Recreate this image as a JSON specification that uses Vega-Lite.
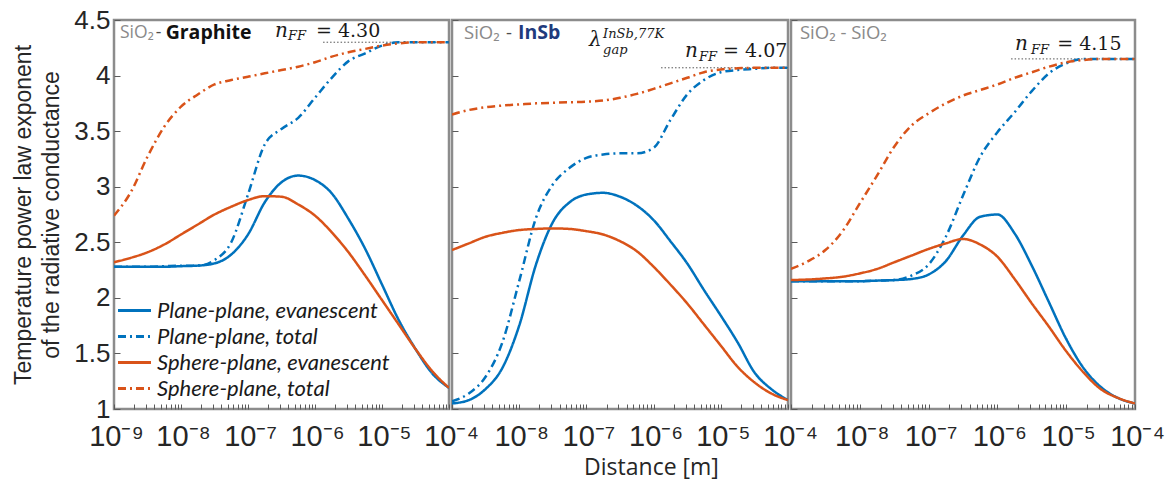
{
  "$schema": "https://vega.github.io/schema/vega-lite/v6.json",
  "padding": {"left": 11, "top": 5, "right": 2, "bottom": 0},
  "background": "white",
  "bounds": "flush",
  "config": {
    "view": {"stroke": "#8c8c8c", "strokeWidth": 2.5},
    "concat": {"spacing": 3},
    "axis": {"domain": false, "grid": false, "zindex": 1, "labelFont": "Liberation Sans", "labelColor": "#262626", "tickColor": "#5a5a5a", "tickWidth": 1, "titleFont": "Liberation Sans", "titleColor": "#262626", "titleFontWeight": "normal", "labelOverlap": false, "labelFlush": false},
    "legend": {"title": null, "symbolType": "M-1.27,0H1.27", "symbolStrokeWidth": 3, "symbolSize": 676, "labelFont": "Lato", "labelFontStyle": "italic", "labelFontSize": 22, "labelColor": "#1a1a1a", "rowPadding": 0, "labelOffset": 8, "padding": 0, "labelLimit": 400}
  },
  "resolve": {"legend": {"color": "independent", "strokeDash": "independent"}},
  "datasets": {
    "curves": [
      {"p":1,"d":1e-9,"Plane-plane, evanescent":2.28,"Plane-plane, total":2.28,"Sphere-plane, evanescent":2.32,"Sphere-plane, total":2.74},
      {"p":1,"d":1.778e-9,"Plane-plane, evanescent":2.28,"Plane-plane, total":2.28,"Sphere-plane, evanescent":2.36,"Sphere-plane, total":2.95},
      {"p":1,"d":3.162e-9,"Plane-plane, evanescent":2.28,"Plane-plane, total":2.28,"Sphere-plane, evanescent":2.41,"Sphere-plane, total":3.27},
      {"p":1,"d":5.623e-9,"Plane-plane, evanescent":2.28,"Plane-plane, total":2.285,"Sphere-plane, evanescent":2.48,"Sphere-plane, total":3.54},
      {"p":1,"d":1e-8,"Plane-plane, evanescent":2.285,"Plane-plane, total":2.29,"Sphere-plane, evanescent":2.57,"Sphere-plane, total":3.72},
      {"p":1,"d":1.778e-8,"Plane-plane, evanescent":2.29,"Plane-plane, total":2.29,"Sphere-plane, evanescent":2.66,"Sphere-plane, total":3.83},
      {"p":1,"d":3.162e-8,"Plane-plane, evanescent":2.31,"Plane-plane, total":2.34,"Sphere-plane, evanescent":2.75,"Sphere-plane, total":3.92},
      {"p":1,"d":5.623e-8,"Plane-plane, evanescent":2.39,"Plane-plane, total":2.5,"Sphere-plane, evanescent":2.82,"Sphere-plane, total":3.96},
      {"p":1,"d":1e-7,"Plane-plane, evanescent":2.57,"Plane-plane, total":2.93,"Sphere-plane, evanescent":2.88,"Sphere-plane, total":3.99},
      {"p":1,"d":1.778e-7,"Plane-plane, evanescent":2.86,"Plane-plane, total":3.38,"Sphere-plane, evanescent":2.915,"Sphere-plane, total":4.02},
      {"p":1,"d":3.162e-7,"Plane-plane, evanescent":3.04,"Plane-plane, total":3.52,"Sphere-plane, evanescent":2.91,"Sphere-plane, total":4.05},
      {"p":1,"d":5.623e-7,"Plane-plane, evanescent":3.10,"Plane-plane, total":3.62,"Sphere-plane, evanescent":2.84,"Sphere-plane, total":4.08},
      {"p":1,"d":1e-6,"Plane-plane, evanescent":3.06,"Plane-plane, total":3.80,"Sphere-plane, evanescent":2.74,"Sphere-plane, total":4.12},
      {"p":1,"d":1.778e-6,"Plane-plane, evanescent":2.94,"Plane-plane, total":3.98,"Sphere-plane, evanescent":2.59,"Sphere-plane, total":4.17},
      {"p":1,"d":3.162e-6,"Plane-plane, evanescent":2.71,"Plane-plane, total":4.13,"Sphere-plane, evanescent":2.41,"Sphere-plane, total":4.21},
      {"p":1,"d":5.623e-6,"Plane-plane, evanescent":2.44,"Plane-plane, total":4.20,"Sphere-plane, evanescent":2.20,"Sphere-plane, total":4.24},
      {"p":1,"d":1e-5,"Plane-plane, evanescent":2.12,"Plane-plane, total":4.27,"Sphere-plane, evanescent":1.98,"Sphere-plane, total":4.27},
      {"p":1,"d":1.778e-5,"Plane-plane, evanescent":1.80,"Plane-plane, total":4.30,"Sphere-plane, evanescent":1.76,"Sphere-plane, total":4.29},
      {"p":1,"d":3.162e-5,"Plane-plane, evanescent":1.54,"Plane-plane, total":4.30,"Sphere-plane, evanescent":1.54,"Sphere-plane, total":4.30},
      {"p":1,"d":5.623e-5,"Plane-plane, evanescent":1.32,"Plane-plane, total":4.30,"Sphere-plane, evanescent":1.34,"Sphere-plane, total":4.30},
      {"p":1,"d":1e-4,"Plane-plane, evanescent":1.19,"Plane-plane, total":4.30,"Sphere-plane, evanescent":1.19,"Sphere-plane, total":4.30},

      {"p":2,"d":1e-9,"Plane-plane, evanescent":1.05,"Plane-plane, total":1.07,"Sphere-plane, evanescent":2.43,"Sphere-plane, total":3.65},
      {"p":2,"d":1.778e-9,"Plane-plane, evanescent":1.08,"Plane-plane, total":1.14,"Sphere-plane, evanescent":2.49,"Sphere-plane, total":3.69},
      {"p":2,"d":3.162e-9,"Plane-plane, evanescent":1.18,"Plane-plane, total":1.29,"Sphere-plane, evanescent":2.55,"Sphere-plane, total":3.715},
      {"p":2,"d":5.623e-9,"Plane-plane, evanescent":1.37,"Plane-plane, total":1.60,"Sphere-plane, evanescent":2.585,"Sphere-plane, total":3.73},
      {"p":2,"d":1e-8,"Plane-plane, evanescent":1.75,"Plane-plane, total":2.15,"Sphere-plane, evanescent":2.61,"Sphere-plane, total":3.74},
      {"p":2,"d":1.778e-8,"Plane-plane, evanescent":2.30,"Plane-plane, total":2.72,"Sphere-plane, evanescent":2.62,"Sphere-plane, total":3.75},
      {"p":2,"d":3.162e-8,"Plane-plane, evanescent":2.68,"Plane-plane, total":3.02,"Sphere-plane, evanescent":2.625,"Sphere-plane, total":3.755},
      {"p":2,"d":5.623e-8,"Plane-plane, evanescent":2.86,"Plane-plane, total":3.17,"Sphere-plane, evanescent":2.62,"Sphere-plane, total":3.76},
      {"p":2,"d":1e-7,"Plane-plane, evanescent":2.93,"Plane-plane, total":3.26,"Sphere-plane, evanescent":2.60,"Sphere-plane, total":3.765},
      {"p":2,"d":1.778e-7,"Plane-plane, evanescent":2.945,"Plane-plane, total":3.29,"Sphere-plane, evanescent":2.57,"Sphere-plane, total":3.775},
      {"p":2,"d":3.162e-7,"Plane-plane, evanescent":2.91,"Plane-plane, total":3.30,"Sphere-plane, evanescent":2.51,"Sphere-plane, total":3.80},
      {"p":2,"d":5.623e-7,"Plane-plane, evanescent":2.83,"Plane-plane, total":3.30,"Sphere-plane, evanescent":2.42,"Sphere-plane, total":3.835},
      {"p":2,"d":1e-6,"Plane-plane, evanescent":2.70,"Plane-plane, total":3.35,"Sphere-plane, evanescent":2.28,"Sphere-plane, total":3.88},
      {"p":2,"d":1.778e-6,"Plane-plane, evanescent":2.51,"Plane-plane, total":3.60,"Sphere-plane, evanescent":2.12,"Sphere-plane, total":3.93},
      {"p":2,"d":3.162e-6,"Plane-plane, evanescent":2.31,"Plane-plane, total":3.83,"Sphere-plane, evanescent":1.95,"Sphere-plane, total":3.98},
      {"p":2,"d":5.623e-6,"Plane-plane, evanescent":2.07,"Plane-plane, total":3.96,"Sphere-plane, evanescent":1.76,"Sphere-plane, total":4.03},
      {"p":2,"d":1e-5,"Plane-plane, evanescent":1.84,"Plane-plane, total":4.03,"Sphere-plane, evanescent":1.57,"Sphere-plane, total":4.055},
      {"p":2,"d":1.778e-5,"Plane-plane, evanescent":1.60,"Plane-plane, total":4.05,"Sphere-plane, evanescent":1.38,"Sphere-plane, total":4.065},
      {"p":2,"d":3.162e-5,"Plane-plane, evanescent":1.33,"Plane-plane, total":4.06,"Sphere-plane, evanescent":1.24,"Sphere-plane, total":4.07},
      {"p":2,"d":5.623e-5,"Plane-plane, evanescent":1.18,"Plane-plane, total":4.07,"Sphere-plane, evanescent":1.14,"Sphere-plane, total":4.07},
      {"p":2,"d":1e-4,"Plane-plane, evanescent":1.08,"Plane-plane, total":4.07,"Sphere-plane, evanescent":1.08,"Sphere-plane, total":4.07},

      {"p":3,"d":1e-9,"Plane-plane, evanescent":2.15,"Plane-plane, total":2.15,"Sphere-plane, evanescent":2.16,"Sphere-plane, total":2.26},
      {"p":3,"d":1.778e-9,"Plane-plane, evanescent":2.15,"Plane-plane, total":2.15,"Sphere-plane, evanescent":2.165,"Sphere-plane, total":2.33},
      {"p":3,"d":3.162e-9,"Plane-plane, evanescent":2.15,"Plane-plane, total":2.15,"Sphere-plane, evanescent":2.175,"Sphere-plane, total":2.43},
      {"p":3,"d":5.623e-9,"Plane-plane, evanescent":2.15,"Plane-plane, total":2.15,"Sphere-plane, evanescent":2.19,"Sphere-plane, total":2.60},
      {"p":3,"d":1e-8,"Plane-plane, evanescent":2.15,"Plane-plane, total":2.15,"Sphere-plane, evanescent":2.22,"Sphere-plane, total":2.85},
      {"p":3,"d":1.778e-8,"Plane-plane, evanescent":2.155,"Plane-plane, total":2.155,"Sphere-plane, evanescent":2.26,"Sphere-plane, total":3.10},
      {"p":3,"d":3.162e-8,"Plane-plane, evanescent":2.16,"Plane-plane, total":2.16,"Sphere-plane, evanescent":2.32,"Sphere-plane, total":3.36},
      {"p":3,"d":5.623e-8,"Plane-plane, evanescent":2.17,"Plane-plane, total":2.20,"Sphere-plane, evanescent":2.38,"Sphere-plane, total":3.55},
      {"p":3,"d":1e-7,"Plane-plane, evanescent":2.21,"Plane-plane, total":2.30,"Sphere-plane, evanescent":2.44,"Sphere-plane, total":3.66},
      {"p":3,"d":1.778e-7,"Plane-plane, evanescent":2.33,"Plane-plane, total":2.55,"Sphere-plane, evanescent":2.49,"Sphere-plane, total":3.75},
      {"p":3,"d":3.162e-7,"Plane-plane, evanescent":2.56,"Plane-plane, total":2.92,"Sphere-plane, evanescent":2.53,"Sphere-plane, total":3.82},
      {"p":3,"d":5.623e-7,"Plane-plane, evanescent":2.73,"Plane-plane, total":3.27,"Sphere-plane, evanescent":2.48,"Sphere-plane, total":3.87},
      {"p":3,"d":1e-6,"Plane-plane, evanescent":2.75,"Plane-plane, total":3.49,"Sphere-plane, evanescent":2.37,"Sphere-plane, total":3.92},
      {"p":3,"d":1.778e-6,"Plane-plane, evanescent":2.58,"Plane-plane, total":3.67,"Sphere-plane, evanescent":2.17,"Sphere-plane, total":3.98},
      {"p":3,"d":3.162e-6,"Plane-plane, evanescent":2.29,"Plane-plane, total":3.86,"Sphere-plane, evanescent":1.95,"Sphere-plane, total":4.03},
      {"p":3,"d":5.623e-6,"Plane-plane, evanescent":1.96,"Plane-plane, total":4.02,"Sphere-plane, evanescent":1.74,"Sphere-plane, total":4.08},
      {"p":3,"d":1e-5,"Plane-plane, evanescent":1.63,"Plane-plane, total":4.11,"Sphere-plane, evanescent":1.52,"Sphere-plane, total":4.12},
      {"p":3,"d":1.778e-5,"Plane-plane, evanescent":1.37,"Plane-plane, total":4.15,"Sphere-plane, evanescent":1.33,"Sphere-plane, total":4.14},
      {"p":3,"d":3.162e-5,"Plane-plane, evanescent":1.20,"Plane-plane, total":4.15,"Sphere-plane, evanescent":1.18,"Sphere-plane, total":4.15},
      {"p":3,"d":5.623e-5,"Plane-plane, evanescent":1.10,"Plane-plane, total":4.15,"Sphere-plane, evanescent":1.10,"Sphere-plane, total":4.15},
      {"p":3,"d":1e-4,"Plane-plane, evanescent":1.05,"Plane-plane, total":4.15,"Sphere-plane, evanescent":1.05,"Sphere-plane, total":4.15}
    ],
    "ann": [
      {"p":1,"k":"gray","t":"SiO₂","d":1.23e-9,"n":4.384},
      {"p":1,"k":"dash","t":"-","d":4.2e-9,"n":4.384},
      {"p":1,"k":"bold","t":"Graphite","d":5.9e-9,"n":4.384},
      {"p":1,"k":"it","t":"n","d":2.53e-7,"n":4.348},
      {"p":1,"k":"sub","t":"FF","d":3.95e-7,"n":4.32},
      {"p":1,"k":"rm","t":"= 4.30","d":1.035e-6,"n":4.348},
      {"p":2,"k":"gray","t":"SiO₂","d":1.51e-9,"n":4.384},
      {"p":2,"k":"dash","t":"-","d":6.37e-9,"n":4.384},
      {"p":2,"k":"navy","t":"InSb","d":9.6e-9,"n":4.384},
      {"p":2,"k":"it","t":"λ","d":1.09e-7,"n":4.267},
      {"p":2,"k":"sub","t":"gap","d":1.77e-7,"n":4.195},
      {"p":2,"k":"sub","t":"InSb,77K","d":1.77e-7,"n":4.339},
      {"p":2,"k":"it","t":"n","d":2.93e-6,"n":4.168},
      {"p":2,"k":"sub","t":"FF","d":4.74e-6,"n":4.132},
      {"p":2,"k":"rm","t":"= 4.07","d":1.08e-5,"n":4.168},
      {"p":3,"k":"gray","t":"SiO₂ - SiO₂","d":1.35e-9,"n":4.384},
      {"p":3,"k":"it","t":"n","d":1.8e-6,"n":4.231},
      {"p":3,"k":"sub","t":"FF","d":3.08e-6,"n":4.195},
      {"p":3,"k":"rm","t":"= 4.15","d":7.4e-6,"n":4.231}
    ],
    "ref": [
      {"p":1,"d":1.32e-6,"d2":1e-4,"n":4.30},
      {"p":2,"d":1.29e-6,"d2":1e-4,"n":4.07},
      {"p":3,"d":1.58e-6,"d2":1e-4,"n":4.15}
    ]
  },
  "hconcat": [
    {
      "width": 335, "height": 389,
      "layer": [
        {
          "data": {"name": "ref"},
          "transform": [{"filter": "datum.p == 1"}],
          "mark": {"type": "rule", "strokeDash": [1.5, 2], "color": "#555555", "strokeWidth": 1},
          "encoding": {
            "x": {"field": "d", "type": "quantitative", "scale": {"type": "log", "domain": [1e-9, 1e-4], "nice": false}},
            "x2": {"field": "d2"},
            "y": {"field": "n", "type": "quantitative", "scale": {"domain": [1, 4.5], "nice": false, "zero": false}}
          }
        },
        {
          "data": {"name": "curves"},
          "transform": [{"filter": "datum.p == 1"}, {"fold": ["Plane-plane, evanescent", "Plane-plane, total", "Sphere-plane, evanescent", "Sphere-plane, total"], "as": ["series", "n"]}],
          "mark": {"type": "line", "strokeWidth": 2.5, "interpolate": "monotone", "clip": true},
          "encoding": {
            "x": {"field": "d", "type": "quantitative", "scale": {"type": "log", "domain": [1e-9, 1e-4], "nice": false},
              "axis": {"title": null, "values": [1e-9,2e-9,3e-9,4e-9,5e-9,6e-9,7e-9,8e-9,9e-9,1e-8,2e-8,3e-8,4e-8,5e-8,6e-8,7e-8,8e-8,9e-8,1e-7,2e-7,3e-7,4e-7,5e-7,6e-7,7e-7,8e-7,9e-7,1e-6,2e-6,3e-6,4e-6,5e-6,6e-6,7e-6,8e-6,9e-6,1e-5,2e-5,3e-5,4e-5,5e-5,6e-5,7e-5,8e-5,9e-5,1e-4],
                "labelExpr": "abs(log(datum.value)/LN10 - round(log(datum.value)/LN10)) < 0.001 ? '10⁻' + substring('⁰¹²³⁴⁵⁶⁷⁸⁹', -round(log(datum.value)/LN10), 1 - round(log(datum.value)/LN10)) : ''",
                "labelFontSize": 29, "labelOffset": 2, "labelPadding": 18, "tickSize": -5}},
            "y": {"field": "n", "type": "quantitative", "scale": {"domain": [1, 4.5], "nice": false, "zero": false},
              "axis": {"values": [1, 1.5, 2, 2.5, 3, 3.5, 4, 4.5], "format": "~g", "labelFontSize": 26, "labelPadding": 10, "tickSize": -6,
                "title": ["Temperature power law exponent", "of the radiative conductance"], "titleFontSize": 23, "titleLineHeight": 28, "titlePadding": 10}},
            "color": {"field": "series", "type": "nominal", "scale": {"domain": ["Plane-plane, evanescent", "Plane-plane, total", "Sphere-plane, evanescent", "Sphere-plane, total"], "range": ["#0072BD", "#0072BD", "#D95319", "#D95319"]},
              "legend": {"orient": "none", "legendX": 6, "legendY": 276}},
            "strokeDash": {"field": "series", "type": "nominal", "scale": {"domain": ["Plane-plane, evanescent", "Plane-plane, total", "Sphere-plane, evanescent", "Sphere-plane, total"], "range": [[1, 0], [8, 4, 2, 4], [1, 0], [8, 4, 2, 4]]},
              "legend": {"orient": "none", "legendX": 6, "legendY": 276}}
          }
        },
        {
          "data": {"name": "ann"},
          "transform": [{"filter": "datum.p == 1 && (datum.k == 'gray' || datum.k == 'dash')"}],
          "mark": {"type": "text", "font": "Open Sans", "fontSize": 17.5, "align": "left", "baseline": "middle"},
          "encoding": {"x": {"field": "d", "type": "quantitative"}, "y": {"field": "n", "type": "quantitative"}, "text": {"field": "t"},
            "color": {"condition": {"test": "datum.k == 'gray'", "value": "#8a8a8a"}, "value": "#4d4d4d"}}
        },
        {
          "data": {"name": "ann"},
          "transform": [{"filter": "datum.p == 1 && (datum.k == 'bold' || datum.k == 'navy')"}],
          "mark": {"type": "text", "font": "Open Sans", "fontSize": 19.5, "fontWeight": "bold", "align": "left", "baseline": "middle"},
          "encoding": {"x": {"field": "d", "type": "quantitative"}, "y": {"field": "n", "type": "quantitative"}, "text": {"field": "t"},
            "color": {"condition": {"test": "datum.k == 'navy'", "value": "#1f3b7d"}, "value": "#111111"}}
        },
        {
          "data": {"name": "ann"},
          "transform": [{"filter": "datum.p == 1 && (datum.k == 'it' || datum.k == 'sub')"}],
          "mark": {"type": "text", "font": "DejaVu Serif", "fontStyle": "italic", "align": "left", "baseline": "alphabetic", "color": "#1a1a1a"},
          "encoding": {"x": {"field": "d", "type": "quantitative"}, "y": {"field": "n", "type": "quantitative"}, "text": {"field": "t"},
            "size": {"condition": {"test": "datum.k == 'sub'", "value": 13}, "value": 20}}
        },
        {
          "data": {"name": "ann"},
          "transform": [{"filter": "datum.p == 1 && datum.k == 'rm'"}],
          "mark": {"type": "text", "font": "DejaVu Serif", "fontSize": 19, "align": "left", "baseline": "alphabetic", "color": "#1a1a1a"},
          "encoding": {"x": {"field": "d", "type": "quantitative"}, "y": {"field": "n", "type": "quantitative"}, "text": {"field": "t"}}
        }
      ]
    },
    {
      "width": 336, "height": 389,
      "layer": [
        {
          "data": {"name": "ref"},
          "transform": [{"filter": "datum.p == 2"}],
          "mark": {"type": "rule", "strokeDash": [1.5, 2], "color": "#555555", "strokeWidth": 1},
          "encoding": {
            "x": {"field": "d", "type": "quantitative", "scale": {"type": "log", "domain": [1e-9, 1e-4], "nice": false}},
            "x2": {"field": "d2"},
            "y": {"field": "n", "type": "quantitative", "scale": {"domain": [1, 4.5], "nice": false, "zero": false}}
          }
        },
        {
          "data": {"name": "curves"},
          "transform": [{"filter": "datum.p == 2"}, {"fold": ["Plane-plane, evanescent", "Plane-plane, total", "Sphere-plane, evanescent", "Sphere-plane, total"], "as": ["series", "n"]}],
          "mark": {"type": "line", "strokeWidth": 2.5, "interpolate": "monotone", "clip": true},
          "encoding": {
            "x": {"field": "d", "type": "quantitative", "scale": {"type": "log", "domain": [1e-9, 1e-4], "nice": false},
              "axis": {"title": "Distance [m]", "titleFont": "Open Sans", "titleFontSize": 23, "titleX": 199, "titleY": 65, "titleBaseline": "alphabetic", "titleAlign": "center",
                "values": [1e-9,2e-9,3e-9,4e-9,5e-9,6e-9,7e-9,8e-9,9e-9,1e-8,2e-8,3e-8,4e-8,5e-8,6e-8,7e-8,8e-8,9e-8,1e-7,2e-7,3e-7,4e-7,5e-7,6e-7,7e-7,8e-7,9e-7,1e-6,2e-6,3e-6,4e-6,5e-6,6e-6,7e-6,8e-6,9e-6,1e-5,2e-5,3e-5,4e-5,5e-5,6e-5,7e-5,8e-5,9e-5,1e-4],
                "labelExpr": "datum.value > 2e-9 && abs(log(datum.value)/LN10 - round(log(datum.value)/LN10)) < 0.001 ? '10⁻' + substring('⁰¹²³⁴⁵⁶⁷⁸⁹', -round(log(datum.value)/LN10), 1 - round(log(datum.value)/LN10)) : ''",
                "labelFontSize": 29, "labelOffset": 2, "labelPadding": 18, "tickSize": -5}},
            "y": {"field": "n", "type": "quantitative", "scale": {"domain": [1, 4.5], "nice": false, "zero": false},
              "axis": {"values": [1, 1.5, 2, 2.5, 3, 3.5, 4, 4.5], "labels": false, "tickSize": -6, "title": null}},
            "color": {"field": "series", "type": "nominal", "scale": {"domain": ["Plane-plane, evanescent", "Plane-plane, total", "Sphere-plane, evanescent", "Sphere-plane, total"], "range": ["#0072BD", "#0072BD", "#D95319", "#D95319"]}, "legend": null},
            "strokeDash": {"field": "series", "type": "nominal", "scale": {"domain": ["Plane-plane, evanescent", "Plane-plane, total", "Sphere-plane, evanescent", "Sphere-plane, total"], "range": [[1, 0], [8, 4, 2, 4], [1, 0], [8, 4, 2, 4]]}, "legend": null}
          }
        },
        {
          "data": {"name": "ann"},
          "transform": [{"filter": "datum.p == 2 && (datum.k == 'gray' || datum.k == 'dash')"}],
          "mark": {"type": "text", "font": "Open Sans", "fontSize": 18.5, "align": "left", "baseline": "middle"},
          "encoding": {"x": {"field": "d", "type": "quantitative"}, "y": {"field": "n", "type": "quantitative"}, "text": {"field": "t"},
            "color": {"condition": {"test": "datum.k == 'gray'", "value": "#8a8a8a"}, "value": "#4d4d4d"}}
        },
        {
          "data": {"name": "ann"},
          "transform": [{"filter": "datum.p == 2 && (datum.k == 'bold' || datum.k == 'navy')"}],
          "mark": {"type": "text", "font": "Open Sans", "fontSize": 19.5, "fontWeight": "bold", "align": "left", "baseline": "middle"},
          "encoding": {"x": {"field": "d", "type": "quantitative"}, "y": {"field": "n", "type": "quantitative"}, "text": {"field": "t"},
            "color": {"condition": {"test": "datum.k == 'navy'", "value": "#1f3b7d"}, "value": "#111111"}}
        },
        {
          "data": {"name": "ann"},
          "transform": [{"filter": "datum.p == 2 && (datum.k == 'it' || datum.k == 'sub')"}],
          "mark": {"type": "text", "font": "DejaVu Serif", "fontStyle": "italic", "align": "left", "baseline": "alphabetic", "color": "#1a1a1a"},
          "encoding": {"x": {"field": "d", "type": "quantitative"}, "y": {"field": "n", "type": "quantitative"}, "text": {"field": "t"},
            "size": {"condition": {"test": "datum.k == 'sub'", "value": 13}, "value": 20}}
        },
        {
          "data": {"name": "ann"},
          "transform": [{"filter": "datum.p == 2 && datum.k == 'rm'"}],
          "mark": {"type": "text", "font": "DejaVu Serif", "fontSize": 19, "align": "left", "baseline": "alphabetic", "color": "#1a1a1a"},
          "encoding": {"x": {"field": "d", "type": "quantitative"}, "y": {"field": "n", "type": "quantitative"}, "text": {"field": "t"}}
        }
      ]
    },
    {
      "width": 344, "height": 389,
      "layer": [
        {
          "data": {"name": "ref"},
          "transform": [{"filter": "datum.p == 3"}],
          "mark": {"type": "rule", "strokeDash": [1.5, 2], "color": "#555555", "strokeWidth": 1},
          "encoding": {
            "x": {"field": "d", "type": "quantitative", "scale": {"type": "log", "domain": [1e-9, 1e-4], "nice": false}},
            "x2": {"field": "d2"},
            "y": {"field": "n", "type": "quantitative", "scale": {"domain": [1, 4.5], "nice": false, "zero": false}}
          }
        },
        {
          "data": {"name": "curves"},
          "transform": [{"filter": "datum.p == 3"}, {"fold": ["Plane-plane, evanescent", "Plane-plane, total", "Sphere-plane, evanescent", "Sphere-plane, total"], "as": ["series", "n"]}],
          "mark": {"type": "line", "strokeWidth": 2.5, "interpolate": "monotone", "clip": true},
          "encoding": {
            "x": {"field": "d", "type": "quantitative", "scale": {"type": "log", "domain": [1e-9, 1e-4], "nice": false},
              "axis": {"title": null, "values": [1e-9,2e-9,3e-9,4e-9,5e-9,6e-9,7e-9,8e-9,9e-9,1e-8,2e-8,3e-8,4e-8,5e-8,6e-8,7e-8,8e-8,9e-8,1e-7,2e-7,3e-7,4e-7,5e-7,6e-7,7e-7,8e-7,9e-7,1e-6,2e-6,3e-6,4e-6,5e-6,6e-6,7e-6,8e-6,9e-6,1e-5,2e-5,3e-5,4e-5,5e-5,6e-5,7e-5,8e-5,9e-5,1e-4],
                "labelExpr": "datum.value > 2e-9 && abs(log(datum.value)/LN10 - round(log(datum.value)/LN10)) < 0.001 ? '10⁻' + substring('⁰¹²³⁴⁵⁶⁷⁸⁹', -round(log(datum.value)/LN10), 1 - round(log(datum.value)/LN10)) : ''",
                "labelFontSize": 29, "labelOffset": 2, "labelPadding": 18, "tickSize": -5}},
            "y": {"field": "n", "type": "quantitative", "scale": {"domain": [1, 4.5], "nice": false, "zero": false},
              "axis": {"values": [1, 1.5, 2, 2.5, 3, 3.5, 4, 4.5], "labels": false, "tickSize": -6, "title": null}},
            "color": {"field": "series", "type": "nominal", "scale": {"domain": ["Plane-plane, evanescent", "Plane-plane, total", "Sphere-plane, evanescent", "Sphere-plane, total"], "range": ["#0072BD", "#0072BD", "#D95319", "#D95319"]}, "legend": null},
            "strokeDash": {"field": "series", "type": "nominal", "scale": {"domain": ["Plane-plane, evanescent", "Plane-plane, total", "Sphere-plane, evanescent", "Sphere-plane, total"], "range": [[1, 0], [8, 4, 2, 4], [1, 0], [8, 4, 2, 4]]}, "legend": null}
          }
        },
        {
          "data": {"name": "ann"},
          "transform": [{"filter": "datum.p == 3 && (datum.k == 'gray' || datum.k == 'dash')"}],
          "mark": {"type": "text", "font": "Open Sans", "fontSize": 18.5, "align": "left", "baseline": "middle"},
          "encoding": {"x": {"field": "d", "type": "quantitative"}, "y": {"field": "n", "type": "quantitative"}, "text": {"field": "t"},
            "color": {"condition": {"test": "datum.k == 'gray'", "value": "#8a8a8a"}, "value": "#4d4d4d"}}
        },
        {
          "data": {"name": "ann"},
          "transform": [{"filter": "datum.p == 3 && (datum.k == 'it' || datum.k == 'sub')"}],
          "mark": {"type": "text", "font": "DejaVu Serif", "fontStyle": "italic", "align": "left", "baseline": "alphabetic", "color": "#1a1a1a"},
          "encoding": {"x": {"field": "d", "type": "quantitative"}, "y": {"field": "n", "type": "quantitative"}, "text": {"field": "t"},
            "size": {"condition": {"test": "datum.k == 'sub'", "value": 13}, "value": 20}}
        },
        {
          "data": {"name": "ann"},
          "transform": [{"filter": "datum.p == 3 && datum.k == 'rm'"}],
          "mark": {"type": "text", "font": "DejaVu Serif", "fontSize": 19, "align": "left", "baseline": "alphabetic", "color": "#1a1a1a"},
          "encoding": {"x": {"field": "d", "type": "quantitative"}, "y": {"field": "n", "type": "quantitative"}, "text": {"field": "t"}}
        }
      ]
    }
  ]
}
